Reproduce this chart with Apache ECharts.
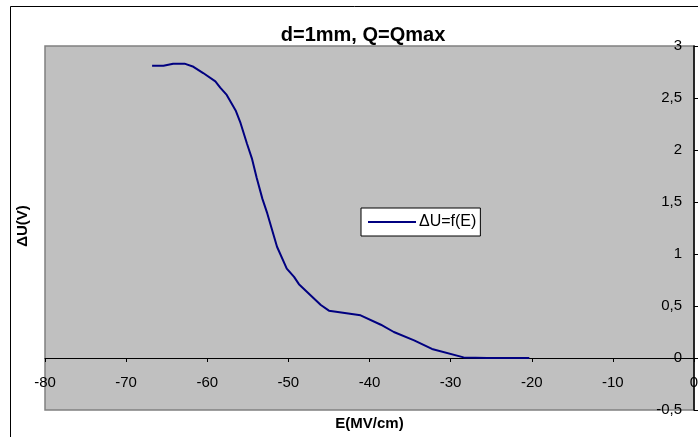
<!DOCTYPE html>
<html>
<head>
<meta charset="utf-8">
<script src="https://cdn.jsdelivr.net/npm/echarts@6/dist/echarts.min.js"></script>
<style>html,body{margin:0;padding:0;background:#fff;}#c{width:698px;height:437px;}</style>
</head>
<body>
<div id="c"></div>
<script>
const titleText = 'd=1mm, Q=Qmax';
const seriesName = 'ΔU=f(E)';
const xAxisName = 'E(MV/cm)';
const yAxisName = 'ΔU(V)';
const eValues = [-66.8, -65.4, -64.2, -62.8, -61.7, -60.5, -59.0, -58.4, -57.6, -56.5, -55.9, -55.1, -54.5, -53.9, -53.2, -52.6, -51.4, -50.2, -49.3, -48.7, -46.0, -45.0, -41.1, -38.6, -37.0, -34.5, -32.3, -28.4, -25.5, -20.3];
const dUValues = [2.81, 2.81, 2.83, 2.83, 2.80, 2.74, 2.66, 2.60, 2.53, 2.38, 2.26, 2.06, 1.92, 1.73, 1.53, 1.39, 1.07, 0.86, 0.78, 0.71, 0.51, 0.455, 0.41, 0.32, 0.25, 0.17, 0.087, 0.006, 0, 0];
const xTicks = { min: -80, max: 0, interval: 10 };
const yTicks = { min: -0.5, max: 3, interval: 0.5 };

const W = 698, H = 437;
const gridBox = { left: 45, right: 4, top: 46, bottom: 27 };
const gridH = H - gridBox.top - gridBox.bottom;
// move the x axis (line, ticks, labels) up to the y = 0 level
const xAxisOffset = -gridH * (0 - yTicks.min) / (yTicks.max - yTicks.min);

const font = '"Liberation Sans", Arial, sans-serif';
const chart = echarts.init(document.getElementById('c'), null, { renderer: 'canvas' });
chart.setOption({
  animation: false,
  backgroundColor: '#ffffff',
  title: {
    text: titleText,
    left: 358, top: 20, textAlign: 'center',
    textStyle: { fontFamily: font, fontSize: 20, fontWeight: 'bold', color: '#000' }
  },
  graphic: [
    { type: 'rect', shape: { x: 10.5, y: 6.5, width: 900, height: 900 }, style: { fill: 'none', stroke: '#000', lineWidth: 1 }, z: 100 },
    { type: 'text', x: 23, y: 226, rotation: Math.PI / 2,
      style: { text: yAxisName, fontFamily: font, fontSize: 15, fontWeight: 'bold', fill: '#000', textAlign: 'center', textVerticalAlign: 'middle' } }
  ],
  legend: {
    left: 361, top: 208,
    orient: 'vertical',
    backgroundColor: '#ffffff', borderColor: '#000', borderWidth: 1,
    padding: [6, 4, 6, 6],
    itemWidth: 48, itemHeight: 14, itemGap: 0,
    itemStyle: { opacity: 0 },
    textStyle: { fontFamily: font, fontSize: 16, color: '#000', padding: [0, 0, 0, -2] },
    data: [seriesName]
  },
  grid: {
    left: gridBox.left, right: gridBox.right, top: gridBox.top, bottom: gridBox.bottom,
    outerBoundsMode: 'none', containLabel: false,
    show: true, backgroundColor: '#c0c0c0', borderColor: '#808080', borderWidth: 1.5
  },
  xAxis: {
    type: 'value', min: xTicks.min, max: xTicks.max, interval: xTicks.interval,
    offset: xAxisOffset,
    name: xAxisName, nameLocation: 'middle', nameGap: 58,
    nameTextStyle: { fontFamily: font, fontSize: 15, fontWeight: 'bold', color: '#000' },
    axisLine: { onZero: false, lineStyle: { color: '#000', width: 1 } },
    axisTick: { show: true, length: 4, inside: false, lineStyle: { color: '#000' } },
    axisLabel: { margin: 17, fontFamily: font, fontSize: 15, color: '#000' },
    splitLine: { show: false }
  },
  yAxis: {
    type: 'value', position: 'right', min: yTicks.min, max: yTicks.max, interval: yTicks.interval,
    axisLine: { show: true, onZero: false, lineStyle: { color: '#000', width: 1.5 } },
    axisTick: { show: true, length: 4, inside: false, lineStyle: { color: '#000' } },
    axisLabel: { inside: true, margin: 12, fontFamily: font, fontSize: 15, color: '#000',
      formatter: v => String(v).replace('.', ',') },
    splitLine: { show: false }
  },
  series: [{
    name: seriesName, type: 'line', symbol: 'none', smooth: false,
    lineStyle: { color: '#000080', width: 2 },
    itemStyle: { color: '#000080' },
    data: eValues.map((e, i) => [e, dUValues[i]])
  }]
});
</script>
</body>
</html>
